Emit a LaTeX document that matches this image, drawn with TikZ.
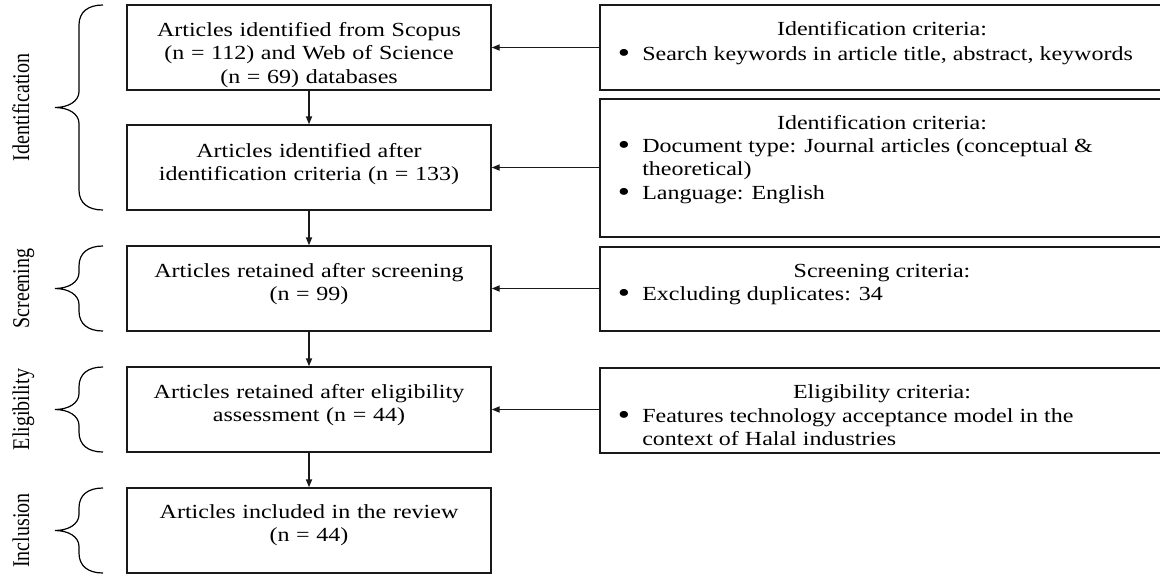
\documentclass[tikz,border=0pt]{standalone}
\usepackage{fontspec}
\usepackage{graphicx}
\setmainfont{Liberation Serif}[FakeStretch=1.2]
\newfontfamily\lblfont{Liberation Serif}
\usetikzlibrary{arrows.meta}
\newcommand\mainsize{\fontsize{15pt}{17.7pt}\selectfont}
\newcommand\lblsize{\lblfont\fontsize{15pt}{18pt}\selectfont}
\newcommand\bigbul{\raisebox{-1.6pt}{\scalebox{1.45}{•}}}
\tikzset{
  frame/.style={draw=black!90, line width=1.1pt},
  lbox/.style={frame, minimum width=273pt, minimum height=63.75pt, inner sep=0pt},
  rbox/.style={frame, minimum width=427.5pt, inner sep=0pt},
  arr/.style={draw=black!90, line width=1.1pt, -{Triangle[length=6pt,width=4.6pt]}},
  ltext/.style={anchor=base, text width=270pt, align=center, inner sep=0pt},
  rhead/.style={anchor=base, inner sep=0pt},
  bul/.style={anchor=base, inner sep=0pt},
  rline/.style={anchor=base west, inner sep=0pt},
  stage/.style={rotate=90, anchor=base, inner sep=0pt, font=\lblsize},
  brace/.style={draw=black, line width=0.9pt}
}
\begin{document}
\begin{tikzpicture}[x=0.75pt, y=-0.75pt, font=\mainsize]
\path[use as bounding box] (0,0) rectangle (1160,586);
\clip (0,0) rectangle (1160,586);

% left boxes
\node[lbox] (L1) at (309,47.5) {};
\node[lbox] (L2) at (309,167.5) {};
\node[lbox] (L3) at (309,288.5) {};
\node[lbox] (L4) at (309,409.5) {};
\node[lbox] (L5) at (309,530.5) {};

\node[ltext] (T1) at (309,36) {Articles identified from Scopus\\(n = 112) and Web of Science\\(n = 69) databases};
\node[ltext] (T2) at (309,157) {Articles identified after\\identification criteria (n = 133)};
\node[ltext] (T3) at (309,277) {Articles retained after screening\\(n = 99)};
\node[ltext] (T4) at (309,398) {Articles retained after eligibility\\assessment (n = 44)};
\node[ltext] (T5) at (309,518) {Articles included in the review\\(n = 44)};

% right boxes
\node[rbox, minimum height=63.75pt] (R1) at (885,47.5) {};
\node[rbox, minimum height=103.5pt] (R2) at (885,168) {};
\node[rbox, minimum height=63pt] (R3) at (885,289) {};
\node[rbox, minimum height=63.75pt] (R4) at (885,410.5) {};

\node[rhead] (H1) at (882,35) {Identification criteria:};
\node[bul] (B1) at (624,60) {\bigbul};
\node[rline] (S1) at (642,60) {Search keywords in article title, abstract, keywords};

\node[rhead] (H2) at (882,129) {Identification criteria:};
\node[bul] (B2) at (624,152) {\bigbul};
\node[rline] (S2) at (642,152) {Document type: Journal articles (conceptual \&};
\node[rline] (S2b) at (642,175.5) {theoretical)};
\node[bul] (B3) at (624,199) {\bigbul};
\node[rline] (S3) at (642,199) {Language: English};

\node[rhead] (H3) at (882,277) {Screening criteria:};
\node[bul] (B4) at (624,300) {\bigbul};
\node[rline] (S4) at (642,300) {Excluding duplicates: 34};

\node[rhead] (H4) at (882,398) {Eligibility criteria:};
\node[bul] (B5) at (624,422) {\bigbul};
\node[rline] (S5) at (642,422) {Features technology acceptance model in the};
\node[rline] (S5b) at (642,445.5) {context of Halal industries};

% vertical flow
\draw[arr] (L1.south) -- (L2.north);
\draw[arr] (L2.south) -- (L3.north);
\draw[arr] (L3.south) -- (L4.north);
\draw[arr] (L4.south) -- (L5.north);

% criteria arrows
\draw[arr] (L1.east -| R1.west) -- (L1.east);
\draw[arr] (L2.east -| R2.west) -- (L2.east);
\draw[arr] (L3.east -| R3.west) -- (L3.east);
\draw[arr] (L4.east -| R4.west) -- (L4.east);

% braces
\foreach \t/\b in {5/210,246/331,367/452,488/573}{
  \pgfmathsetmacro\m{(\t+\b)/2}
  \draw[brace] (103,\t) .. controls (88,\t) and (79,\t+7) .. (79,\t+20)
    -- (79,\m-16) .. controls (79,\m-6) and (68,\m) .. (55,\m)
    .. controls (68,\m) and (79,\m+6) .. (79,\m+16)
    -- (79,\b-20) .. controls (79,\b-7) and (88,\b) .. (103,\b);
}

% stage labels
\node[stage] (G1) at (29,107.5) {\scalebox{1}[1.2]{Identification}};
\node[stage] (G2) at (29,288.5) {\scalebox{1}[1.2]{Screening}};
\node[stage] (G3) at (29,409.5) {\scalebox{1}[1.2]{Eligibility}};
\node[stage] (G4) at (29,530.5) {\scalebox{1}[1.2]{Inclusion}};
\end{tikzpicture}
\end{document}
